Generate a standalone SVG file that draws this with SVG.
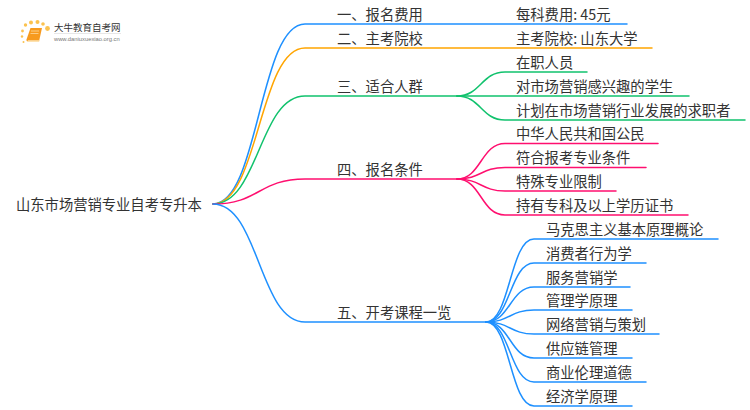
<svg xmlns="http://www.w3.org/2000/svg" width="750" height="410" viewBox="0 0 750 410">
<style>
text{font-family:"Noto Sans CJK SC","Liberation Sans",sans-serif;font-size:14.3px;fill:#333}
.c{fill:none;stroke-width:1.5;stroke-linecap:round}
.b{stroke:#1e90ff}.o{stroke:#ffa500}.g{stroke:#11c26d}.p{stroke:#ff0f6f}
</style>
<rect width="750" height="410" fill="#fff"/>
<g id="logo">
<g fill="#fbc24f">
<circle cx="47.500" cy="28.500" r="2.400"/>
<circle cx="31" cy="22.500" r="2"/><circle cx="25.500" cy="25" r="1.700"/><circle cx="22.500" cy="31" r="1.400"/><circle cx="22" cy="36.500" r="1.200"/><circle cx="23.500" cy="42" r="1"/>
<circle cx="37.500" cy="22" r="2"/><circle cx="43" cy="24" r="1.800"/>
</g>
<path d="M30.500 28h11.500l-3 13.500H28q-2 0-1.500-2z" fill="#f79a1e"/>
<path d="M27 42h12l.6-1.800H28z" fill="#fde2b0"/>
<path d="M31 31h8M30.500 33.500h8" stroke="#fde2b0" stroke-width=".7"/>
<text x="54" y="30.500" style="font-size:9.500px">大牛教育自考网</text>
<path d="M54 33.500h67" stroke="#ddd" stroke-width=".7"/>
<text x="54" y="41" style="font-size:5.800px;fill:#777;font-family:'Liberation Sans',sans-serif">www.daniuxuexiao.org.cn</text>
</g>
<g id="connectors">
<path class="c b" d="M213 204C259 204 259 24 305 24H627"/>
<path class="c o" d="M213 204C259 204 259 48 305 48H652"/>
<path class="c g" d="M213 204C259 204 259 96 305 96H457"/>
<path class="c p" d="M213 204C259 204 259 179 305 179H457"/>
<path class="c b" d="M213 204C259 204 259 322 305 322H486"/>
<path class="c g" d="M457 96C481 96 481 72 505 72H587"/>
<path class="c g" d="M457 96H689"/>
<path class="c g" d="M457 96C481 96 481 120 505 120H745"/>
<path class="c p" d="M457 179C481 179 481 143.500 505 143.500H658"/>
<path class="c p" d="M457 179C481 179 481 167.500 505 167.500H646"/>
<path class="c p" d="M457 179C481 179 481 191 505 191H616"/>
<path class="c p" d="M457 179C481 179 481 215 505 215H688"/>
<path class="c b" d="M486 322C510 322 510 239 534 239H718"/>
<path class="c b" d="M486 322C510 322 510 263 534 263H646"/>
<path class="c b" d="M486 322C510 322 510 287 534 287H630"/>
<path class="c b" d="M486 322C510 322 510 310 534 310H632"/>
<path class="c b" d="M486 322C510 322 510 334 534 334H659"/>
<path class="c b" d="M486 322C510 322 510 358 534 358H632"/>
<path class="c b" d="M486 322C510 322 510 382 534 382H646"/>
<path class="c b" d="M486 322C510 322 510 406 534 406H632"/>
</g>
<g id="root"><text x="16" y="210">山东市场营销专业自考专升本</text></g>
<g id="n1"><text x="337" y="20">一、报名费用</text></g>
<g id="n2"><text x="337" y="44">二、主考院校</text></g>
<g id="n3"><text x="337" y="92">三、适合人群</text></g>
<g id="n4"><text x="337" y="175">四、报名条件</text></g>
<g id="n5"><text x="337" y="318">五、开考课程一览</text></g>
<g id="n1a"><text x="516" y="20">每科费用: 45元</text></g>
<g id="n2a"><text x="516" y="44">主考院校: 山东大学</text></g>
<g id="n3a"><text x="516" y="68">在职人员</text></g>
<g id="n3b"><text x="516" y="92">对市场营销感兴趣的学生</text></g>
<g id="n3c"><text x="516" y="116">计划在市场营销行业发展的求职者</text></g>
<g id="n4a"><text x="516" y="139">中华人民共和国公民</text></g>
<g id="n4b"><text x="516" y="163">符合报考专业条件</text></g>
<g id="n4c"><text x="516" y="187">特殊专业限制</text></g>
<g id="n4d"><text x="516" y="211">持有专科及以上学历证书</text></g>
<g id="n5a"><text x="546" y="235">马克思主义基本原理概论</text></g>
<g id="n5b"><text x="546" y="259">消费者行为学</text></g>
<g id="n5c"><text x="546" y="283">服务营销学</text></g>
<g id="n5d"><text x="546" y="306">管理学原理</text></g>
<g id="n5e"><text x="546" y="330">网络营销与策划</text></g>
<g id="n5f"><text x="546" y="354">供应链管理</text></g>
<g id="n5g"><text x="546" y="378">商业伦理道德</text></g>
<g id="n5h"><text x="546" y="402">经济学原理</text></g>
</svg>
